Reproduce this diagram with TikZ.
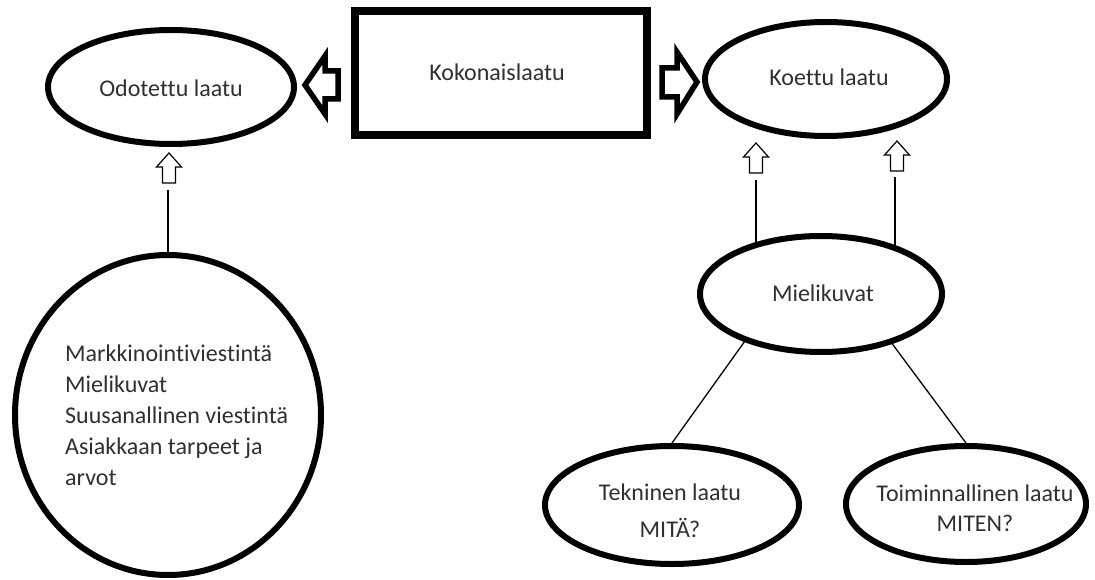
\documentclass[tikz,border=0pt]{standalone}
\usepackage{fontspec}
\setmainfont{Carlito}[Ligatures=NoCommon]
\usetikzlibrary{shapes.geometric,backgrounds}
\definecolor{ink}{HTML}{303030}
\tikzset{
  oval/.style={ellipse, draw, line width=6pt, inner sep=0pt, fill=white},
  box/.style={rectangle, draw, line width=8pt, inner sep=0pt, fill=white},
  lbl/.style={text=ink, font=\fontsize{24}{31}\selectfont, inner sep=0pt},
  thinline/.style={line width=1.3pt},
  hollow/.style={draw, line width=1.2pt, fill=white, line join=miter},
  fat/.style={draw, line width=5.5pt, fill=white, line join=miter},
}
\begin{document}
\begin{tikzpicture}[x=1pt,y=1pt]
\useasboundingbox (0,0) rectangle (1095,-580);

% main shapes
\node[oval, minimum width=246, minimum height=114] (odo) at (171,-87) {};
\node[box, minimum width=292, minimum height=124] (koko) at (501,-73) {};
\node[oval, minimum width=242, minimum height=114] (koe) at (826,-79) {};
\node[oval, minimum width=242, minimum height=116] (mie) at (821,-294) {};
\node[oval, minimum width=254, minimum height=118] (tek) at (672,-505) {};
\node[oval, minimum width=240, minimum height=116] (toi) at (966,-504) {};
\node[oval, minimum width=306, minimum height=320] (lst) at (168,-415) {};

% texts
\node[lbl] (odotxt) at (171,-88) {Odotettu laatu};
\node[lbl] (kokotxt) at (497,-72) {Kokonaislaatu};
\node[lbl] (koetxt) at (829,-77) {Koettu laatu};
\node[lbl] (mietxt) at (823,-293) {Mielikuvat};
\node[lbl, align=center, font=\fontsize{24}{37}\selectfont] (tektxt) at (670,-511) {Tekninen laatu\\MITÄ?};
\node[lbl, align=center, font=\fontsize{24}{30}\selectfont] (toitxt) at (975,-508) {Toiminnallinen laatu\\MITEN?};
\node[lbl, align=left, anchor=west] (lsttxt) at (65,-415) {Markkinointiviestintä\\Mielikuvat\\Suusanallinen viestintä\\Asiakkaan tarpeet ja\\arvot};

% thick block arrows beside the box
\draw[fat] (305,-85) -- (325,-56) -- (325,-71) -- (338,-71) -- (338,-99) -- (325,-99) -- (325,-114) -- cycle;
\draw[fat] (697,-82) -- (677,-52) -- (677,-68) -- (662,-68) -- (662,-97) -- (677,-97) -- (677,-114) -- cycle;

% small hollow up arrows
\foreach \x/\t in {169/153, 756/143, 897/141}{
  \draw[hollow] (\x,-\t) -- ++(12.5,-14) -- ++(-6,0) -- ++(0,-16) -- ++(-13,0)
    -- ++(0,16) -- ++(-6,0) -- cycle;
}

% connector ends below the small arrows
\coordinate (a1) at (168,-190);
\coordinate (a2) at (756,-180);
\coordinate (a3) at (895,-177);

% connectors, kept behind the filled shapes
\begin{scope}[on background layer]
  \fill[white] (0,0) rectangle (1095,-580);
  \draw[thinline] (lst.center) -- (a1);
  \draw[thinline] (mie.center -| a2) -- (a2);
  \draw[thinline] (mie.center -| a3) -- (a3);
  \draw[thinline] (mie.212) -- (tek.north);
  \draw[thinline] (mie.-35) -- (toi.north);
\end{scope}
\end{tikzpicture}
\end{document}
